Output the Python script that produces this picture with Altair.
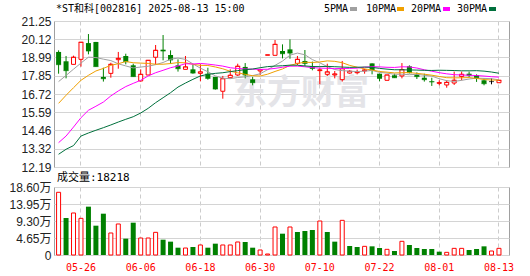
import altair as alt
import pandas as pd

# ---------------- data ----------------
dates = ["05-21", "05-22", "05-23", "05-26", "05-27", "05-28", "05-29", "05-30",
         "06-03", "06-04", "06-05", "06-06", "06-09", "06-10", "06-11", "06-12", "06-13",
         "06-16", "06-17", "06-18", "06-19", "06-20", "06-23", "06-24", "06-25", "06-26", "06-27",
         "06-30", "07-01", "07-02", "07-03", "07-04", "07-07", "07-08", "07-09", "07-10", "07-11",
         "07-14", "07-15", "07-16", "07-17", "07-18", "07-21", "07-22", "07-23", "07-24", "07-25",
         "07-28", "07-29", "07-30", "07-31", "08-01", "08-04", "08-05", "08-06", "08-07", "08-08",
         "08-11", "08-12", "08-13"]

opens = [19.33, 18.75, 18.56, 18.87, 19.88, 19.95, 17.78, 18.00, 18.85, 19.08,
         18.50, 17.53, 17.90, 19.00, 19.47, 19.14, 18.50, 18.25, 18.25, 18.00,
         17.98, 17.78, 16.89, 17.73, 17.90, 18.40, 17.63, 18.15, 19.14, 19.12,
         19.39, 19.49, 18.62, 18.77, 18.46, 18.17, 17.94, 17.90, 17.61, 18.02,
         18.04, 18.15, 18.62, 17.98, 17.57, 17.88, 17.84, 18.44, 17.94, 17.73,
         17.51, 17.38, 17.28, 17.40, 17.80, 17.98, 17.90, 17.57, 17.49, 17.42]
highs = [19.43, 19.08, 19.10, 19.93, 20.44, 19.95, 18.35, 18.66, 19.33, 19.22,
         18.60, 18.25, 18.81, 19.76, 20.38, 19.43, 18.87, 19.08, 18.56, 18.56,
         18.35, 17.78, 17.84, 18.25, 18.60, 18.64, 17.78, 18.29, 19.14, 20.07,
         19.80, 20.11, 19.08, 19.45, 18.73, 18.35, 18.60, 18.15, 18.77, 18.21,
         18.23, 18.29, 18.62, 17.98, 17.90, 17.98, 18.64, 18.50, 18.06, 17.98,
         17.73, 17.57, 17.57, 18.11, 18.11, 18.11, 17.94, 17.69, 17.69, 17.57]
lows = [17.98, 17.69, 18.56, 18.42, 19.18, 18.42, 17.49, 17.73, 18.29, 18.56,
        17.80, 17.49, 17.90, 18.54, 18.81, 18.60, 18.11, 18.25, 17.98, 17.51,
        17.61, 16.99, 16.43, 17.69, 17.84, 17.69, 17.26, 17.90, 19.14, 19.12,
        18.93, 18.91, 18.52, 18.46, 18.19, 17.32, 17.84, 17.69, 17.49, 17.98,
        17.94, 17.98, 17.94, 17.51, 17.57, 17.73, 17.69, 18.00, 17.65, 17.49,
        17.22, 17.26, 17.11, 17.28, 17.57, 17.78, 17.47, 17.26, 17.32, 17.42]
closes = [18.54, 18.17, 19.00, 19.93, 19.39, 18.42, 17.67, 18.56, 18.93, 18.73,
          17.80, 17.94, 18.81, 19.43, 19.39, 18.83, 18.29, 18.40, 18.02, 18.09,
          17.69, 17.03, 17.67, 17.88, 18.44, 17.90, 17.42, 18.23, 19.14, 19.80,
          19.22, 19.26, 18.87, 18.62, 18.31, 18.21, 18.09, 17.96, 18.29, 18.13,
          18.09, 18.21, 18.19, 17.69, 17.90, 17.73, 18.23, 18.04, 17.80, 17.61,
          17.47, 17.42, 17.44, 17.57, 17.94, 17.88, 17.69, 17.36, 17.49, 17.57]
candle_dir = ["down", "down", "up", "up", "down", "down", "down", "up", "up", "down",
              "down", "up", "up", "up", "down", "down", "down", "up", "down", "up",
              "down", "down", "up", "up", "up", "down", "down", "up", "up", "up",
              "down", "down", "up", "down", "down", "up", "up", "up", "up", "up",
              "up", "up", "down", "down", "up", "down", "up", "down", "down", "down",
              "down", "up", "up", "up", "up", "down", "down", "down", "flat", "up"]

# volume in lots (手)
volumes = [171500, 101200, 114900, 100300, 132200, 80200, 113000, 60200, 84800, 44700,
           88400, 46500, 46500, 62000, 41900, 36500, 20000, 19100, 21900, 27400,
           20000, 31000, 27400, 27400, 35600, 35600, 20000, 13700, 2700, 76600,
           58300, 76600, 62900, 65600, 68400, 93000, 62900, 36500, 94800, 24600,
           21900, 23700, 23700, 19100, 15500, 10900, 37400, 27400, 19100, 16400,
           16400, 9100, 7300, 18200, 18200, 13700, 16400, 23700, 10900, 18218]
vol_dir = ["up", "down", "up", "up", "down", "down", "down", "up", "up", "down",
           "down", "up", "up", "up", "down", "down", "down", "up", "down", "up",
           "down", "down", "up", "up", "up", "down", "down", "up", "up", "up",
           "down", "up", "down", "down", "down", "up", "down", "down", "up", "down",
           "down", "up", "down", "down", "up", "down", "up", "down", "down", "down",
           "down", "down", "up", "up", "up", "down", "down", "down", "up", "up"]

ma5_head = [17.49, 17.87, 18.26, 18.64]
ma10_head = [16.14, 16.64, 17.11, 17.57, 17.88, 18.15, 18.31, 18.50, 18.60]
ma20_head = [13.70, 14.11, 14.67, 15.25, 15.71, 15.96, 16.22, 16.60, 16.91, 17.18,
             17.38, 17.57, 17.84, 18.04, 18.19, 18.35, 18.46, 18.60, 18.58]
ma30_head = [12.98, 13.29, 13.52, 14.11, 14.30, 14.47, 14.63, 14.80, 14.98, 15.15,
             15.31, 15.54, 15.83, 16.18, 16.49, 16.80, 17.15, 17.40, 17.63, 17.84,
             17.94, 18.00, 18.04, 18.11, 18.17, 18.23, 18.27, 18.35, 18.42]

ma_names = ["5PMA", "10PMA", "20PMA", "30PMA"]
ma_windows = [5, 10, 20, 30]
ma_colors = ["#a0a0a0", "#f0a000", "#ff00ff", "#00703c"]

price_ticks = [12.19, 13.32, 14.46, 15.59, 16.72, 17.85, 18.99, 20.12, 21.25]
vol_ticks = [0, 46500, 93000, 139500, 186000]
axis_dates = ["05-26", "06-06", "06-18", "06-30", "07-10", "07-22", "08-01", "08-13"]

title_text = "*ST和科[002816] 2025-08-13 15:00"
vol_label = "成交量"

# ---------------- frames ----------------
cdf = pd.DataFrame({"date": dates, "open": opens, "high": highs, "low": lows,
                    "close": closes, "dir": candle_dir})
vdf = pd.DataFrame({"date": dates, "vol": volumes, "dir": vol_dir})

closes_s = pd.Series(closes, dtype=float)


def moving_avg(n, head):
    roll = closes_s.rolling(n).mean().tolist()
    return list(head) + roll[len(head):]


heads = [ma5_head, ma10_head, ma20_head, ma30_head]
ma_df = pd.concat([
    pd.DataFrame({"date": dates, "value": moving_avg(n, h), "series": name})
    for name, n, h in zip(ma_names, ma_windows, heads)
], ignore_index=True)

# ---------------- styling ----------------
RED = "#ff0000"
GREEN = "#008000"
FONT_MONO = "DejaVu Sans Mono, Noto Sans CJK SC"
FONT_NUM = "Liberation Sans, Noto Sans CJK SC"
W, PH, VH = 455, 146, 68

xscale = alt.Scale(domain=dates, paddingInner=0, paddingOuter=0.48, align=0.12)


def xenc(labels):
    return alt.X("date:O", sort=dates, scale=xscale, title=None,
                 axis=alt.Axis(values=axis_dates, labels=labels, ticks=False, domain=False,
                               grid=True, gridDash=[4, 3], gridColor="#cccccc",
                               bandPosition=0.5, labelColor=RED, labelFont=FONT_MONO,
                               labelFontSize=10, labelPadding=7, labelAngle=0))


pscale = alt.Scale(domain=[12.19, 21.25], nice=False, zero=False)
paxis = alt.Axis(values=price_ticks, format=".2f", grid=True, gridColor="#d4d4d4",
                 domain=False, ticks=False, labelPadding=3, labelFont=FONT_NUM,
                 labelFontSize=12, labelColor="#222222", labelOverlap=False)


def py(field):
    return alt.Y(field, scale=pscale, axis=paxis, title=None)


dir_stroke = alt.Scale(domain=["up", "down", "flat"], range=[RED, GREEN, "#000000"])

one = pd.DataFrame({"k": [0]})

watermark = alt.Chart(pd.DataFrame({"t": ["东方财富"]})).mark_text(
    font="Noto Sans CJK SC", fontSize=34, fontWeight="bold", color="#e4e4e8",
    align="center", baseline="middle").encode(
    x=alt.value(247), y=alt.value(73), text="t:N")

wicks = alt.Chart(cdf).mark_rule(strokeWidth=1).encode(
    x=xenc(False), y=py("low:Q"), y2="high:Q",
    stroke=alt.Stroke("dir:N", scale=dir_stroke, legend=None))

up_bodies = alt.Chart(cdf).transform_filter(alt.datum.dir == "up").mark_bar(
    size=4, fill="white", stroke=RED, strokeWidth=1).encode(
    x=xenc(False), y=py("open:Q"), y2="close:Q")

down_bodies = alt.Chart(cdf).transform_filter(alt.datum.dir == "down").mark_bar(
    size=5, fill=GREEN).encode(x=xenc(False), y=py("open:Q"), y2="close:Q")

close_ticks = alt.Chart(cdf).mark_tick(thickness=1, size=5).encode(
    x=xenc(False), y=py("close:Q"),
    fill=alt.Fill("dir:N", scale=dir_stroke, legend=None))

ma_lines = alt.Chart(ma_df).mark_line(strokeWidth=1).encode(
    x=xenc(False), y=py("value:Q"),
    color=alt.Color("series:N", scale=alt.Scale(domain=ma_names, range=ma_colors), legend=None),
    order=alt.Order("date:O"))

title_layer = alt.Chart(pd.DataFrame({"t": [title_text]})).mark_text(
    align="left", baseline="middle", font=FONT_MONO, fontSize=10, color="#000000").encode(
    x=alt.value(2), y=alt.value(-12), text="t:N")

legend_layers = []
legend_text_x = [270, 312, 357, 403]
legend_sw_x = [296, 343, 389, 435]
for name, col, tx, sx in zip(ma_names, ma_colors, legend_text_x, legend_sw_x):
    legend_layers.append(alt.Chart(pd.DataFrame({"t": [name]})).mark_text(
        align="left", baseline="middle", font=FONT_MONO, fontSize=10, color="#000000").encode(
        x=alt.value(tx), y=alt.value(-12), text="t:N"))
    legend_layers.append(alt.Chart(one).mark_rect(color=col).encode(
        x=alt.value(sx), x2=alt.value(sx + 7), y=alt.value(-14), y2=alt.value(-10)))

price = alt.layer(watermark, wicks, up_bodies, down_bodies, close_ticks, ma_lines,
                  title_layer, *legend_layers).properties(width=W, height=PH)

vscale = alt.Scale(domain=[0, 186000], nice=False, zero=True)
vaxis = alt.Axis(values=vol_ticks, grid=True, gridColor="#d4d4d4", domain=False, ticks=False,
                 labelPadding=3, labelFont=FONT_NUM, labelFontSize=12, labelColor="#222222",
                 labelOverlap=False,
                 labelExpr="datum.value == 0 ? '0' : format(datum.value / 10000, '.2f') + '万'")

vol_up = alt.Chart(vdf).transform_filter(alt.datum.dir == "up").mark_bar(
    size=4, fill="white", stroke=RED, strokeWidth=1).encode(
    x=xenc(True), y=alt.Y("vol:Q", scale=vscale, axis=vaxis, title=None))
vol_down = alt.Chart(vdf).transform_filter(alt.datum.dir == "down").mark_bar(
    size=5, fill=GREEN).encode(
    x=xenc(True), y=alt.Y("vol:Q", scale=vscale, axis=vaxis, title=None))

vol_title = alt.Chart(pd.DataFrame({"t": [f"{vol_label}:{volumes[-1]}"]})).mark_text(
    align="left", baseline="middle", font=FONT_MONO, fontSize=11, color="#000000").encode(
    x=alt.value(3), y=alt.value(-9), text="t:N")

volume = alt.layer(vol_up, vol_down, vol_title).properties(width=W, height=VH)

chart = alt.vconcat(price, volume, spacing=20, bounds="flush").properties(
    padding={"left": 8, "top": 3, "right": 0, "bottom": 0},
    background="white"
).configure_view(stroke="#a0a0a0", strokeWidth=1)

chart.save("out.html", embed_options={"renderer": "svg", "actions": False})
